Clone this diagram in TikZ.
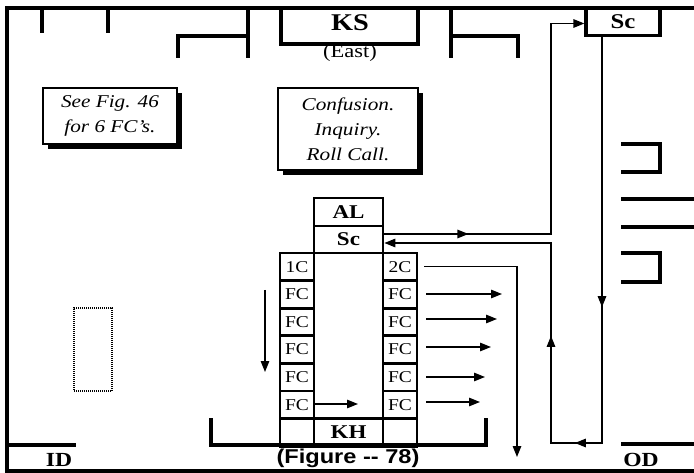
\documentclass[tikz,border=0pt]{standalone}
\usepackage{fontspec}
\setmainfont{Liberation Serif}[FakeStretch=1.18]
\newfontfamily\figfont{Liberation Sans}[FakeStretch=1.18]
\usetikzlibrary{arrows.meta,decorations.markings,shadows}
\begin{document}
\begin{tikzpicture}[x=1pt,y=-1pt,
  wall/.style={line width=3.2pt},
  cell/.style={draw,line width=2.8pt,minimum width=34pt,minimum height=27.6pt,inner sep=0pt,font=\fontsize{16.5}{16.5}\selectfont},
  bigcell/.style={draw,line width=2.8pt,minimum width=69pt,inner sep=0pt,font=\bfseries\fontsize{19.5}{19.5}\selectfont},
  conn/.style={line width=1.4pt},
  tip/.style={-{Triangle[length=11pt,width=8.5pt]}},
  note/.style={draw,line width=1.3pt,fill=white,align=center,inner sep=0pt,
    font=\itshape\fontsize{18}{25}\selectfont,
    drop shadow={shadow xshift=5pt,shadow yshift=-5pt,fill=black,opacity=1}},
  lbl/.style={font=\bfseries\fontsize{20}{20}\selectfont,inner sep=0pt}
]
\useasboundingbox (0,0) rectangle (694,473);
\fill[white] (0,0) rectangle (694,473);

% outer walls
\draw[wall] (7,471) -- (7,8) -- (694,8);
\draw[wall] (5.4,471) -- (694,471);
\draw[wall] (42,8) -- (42,33);
\draw[wall] (108,8) -- (108,33);
\draw[wall] (178,58) -- (178,36) -- (248,36);
\draw[wall] (248,8) -- (248,58);
\draw[wall] (451,8) -- (451,58);
\draw[wall] (451,36) -- (518,36) -- (518,58);
\draw[wall] (7,445) -- (76,445);
\draw[wall] (211,418) -- (211,445) -- (486,445) -- (486,418);
\draw[wall] (621,444) -- (694,444);
\draw[wall] (621,144) -- (660,144) -- (660,172) -- (621,172);
\draw[wall] (621,199) -- (694,199);
\draw[wall] (621,227) -- (694,227);
\draw[wall] (621,253) -- (660,253) -- (660,282) -- (621,282);

% top boxes
\node[draw,line width=3.2pt,minimum width=137pt,minimum height=36pt,inner sep=0pt] (ks) at (349.5,26) {};
\node[lbl,font=\bfseries\fontsize{24}{24}\selectfont] (kstext) at (350,23) {KS};
\node[inner sep=0pt,font=\fontsize{19}{19}\selectfont] (east) at (350,53) {(East)};
\node[draw,line width=3.2pt,minimum width=74pt,minimum height=28pt,inner sep=0pt,font=\bfseries\fontsize{21}{21}\selectfont] (sct) at (623,21.5) {Sc};

% notes
\node[note,minimum width=134pt,minimum height=56pt] (see) at (110,116) {See Fig. 46\\for 6 FC's.};
\node[note,minimum width=140pt,minimum height=82pt] (conf) at (348,129) {Confusion.\\Inquiry.\\Roll Call.};

% central column
\node[bigcell,minimum height=28pt] (al) at (348.5,212) {AL};
\node[bigcell,minimum height=27pt] (scm) at (348.5,239.5) {Sc};
\node[cell] (l0) at (297,266.8) {1C};
\node[cell] (r0) at (400,266.8) {2C};
\foreach \i/\y in {1/294.4,2/322,3/349.6,4/377.2,5/404.8}{
  \node[cell] (l\i) at (297,\y) {FC};
  \node[cell] (r\i) at (400,\y) {FC};
}
\node[cell] (l6) at (297,432.4) {};
\node[cell] (r6) at (400,432.4) {};
\node[bigcell,minimum height=27.6pt] (kh) at (348.5,432.4) {KH};

% dotted box
\node[draw,line width=2.8pt,dash pattern=on 1pt off 1pt,minimum width=38pt,minimum height=83pt,inner sep=0pt] (dot) at (93,349.5) {};

% labels
\node[lbl] (id) at (59,459.5) {ID};
\node[lbl] (od) at (641,460) {OD};
\node[lbl,font=\figfont\bfseries\fontsize{20}{20}\selectfont] (fig) at (348,458) {(Figure -- 78)};

% coordinates
\coordinate (ua) at (551,234);
\coordinate (lr) at (602,443);
\coordinate (ll) at (551,443);
\coordinate (d2) at (517,457);
\coordinate (e1) at (502,294);
\coordinate (e2) at (497,319);
\coordinate (e3) at (491,347);
\coordinate (e4) at (485,377);
\coordinate (e5) at (480,402);
\coordinate (lf) at (358,404);
\coordinate (da) at (265,290);
\coordinate (db) at (265,372);

% connectors
\draw[conn,tip,postaction={decorate},decoration={markings,
  mark=at position 84pt with {\arrow{Triangle[length=11pt,width=8.5pt]}}}]
  ([yshift=5.5pt]scm.east) -- (ua) |- ([yshift=-2pt]sct.west);
\draw[conn,tip,postaction={decorate},decoration={markings,
  mark=at position 270pt with {\arrow{Triangle[length=11pt,width=8.5pt]}},
  mark=at position 433pt with {\arrow{Triangle[length=11pt,width=8.5pt]}},
  mark=at position 564pt with {\arrow{Triangle[length=11pt,width=8.5pt]}}}]
  (sct.south -| lr) -- (lr) -- (ll) |- ([yshift=-3.5pt]scm.east);
\draw[conn,tip,shorten <=6pt] (r0.east) -| (d2);
\foreach \i in {1,...,5}{
  \draw[conn,tip,shorten <=8pt] (r\i.east |- e\i) -- (e\i);
}
\draw[conn,tip] (l5.east |- lf) -- (lf);
\draw[conn,tip] (da) -- (db);
\end{tikzpicture}
\end{document}
